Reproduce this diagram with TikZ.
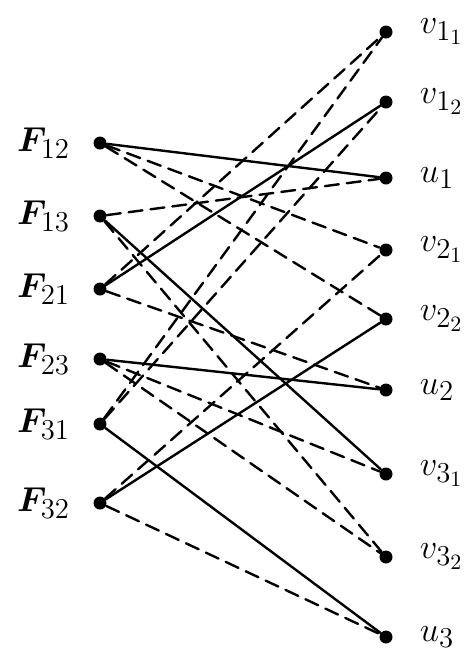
\documentclass[tikz,border=0pt]{standalone}
\usepackage{amsmath,amssymb}
\usepackage{bm}
\usetikzlibrary{positioning}
\DeclareMathSizes{17.28}{17.28}{14}{11}

\begin{document}
\begin{tikzpicture}[x=0.5pt, y=-0.5pt, line cap=round,
  dot/.style={circle, fill=black, inner sep=0pt, minimum size=6.5pt},
  pieno/.style={line width=1.2pt},
  tratt/.style={line width=1.2pt, dash pattern=on 7pt off 4pt},
  etich/.style={font=\LARGE}]

\useasboundingbox (0,0) rectangle (475,654);

% Nodi a sinistra
\node[dot] (F12) at (100,143) {};
\node[dot] (F13) at (100,216) {};
\node[dot] (F21) at (100,289) {};
\node[dot] (F23) at (100,359) {};
\node[dot] (F31) at (100,424) {};
\node[dot] (F32) at (100,503) {};

% Nodi a destra
\node[dot] (v11) at (386,32) {};
\node[dot] (v12) at (386,102) {};
\node[dot] (u1)  at (386,178) {};
\node[dot] (v21) at (386,250) {};
\node[dot] (v22) at (386,319) {};
\node[dot] (u2)  at (386,390) {};
\node[dot] (v31) at (386,474) {};
\node[dot] (v32) at (386,557) {};
\node[dot] (u3)  at (386,637) {};

% Etichette
\node[etich, left=8pt of F12] (lF12) {$\bm{F}_{12}$};
\node[etich, left=8pt of F13] (lF13) {$\bm{F}_{13}$};
\node[etich, left=8pt of F21] (lF21) {$\bm{F}_{21}$};
\node[etich, left=8pt of F23] (lF23) {$\bm{F}_{23}$};
\node[etich, left=8pt of F31] (lF31) {$\bm{F}_{31}$};
\node[etich, left=8pt of F32] (lF32) {$\bm{F}_{32}$};

\node[etich, right=10pt of v11] (lv11) {$v_{1_1}$};
\node[etich, right=10pt of v12] (lv12) {$v_{1_2}$};
\node[etich, right=10pt of u1]  (lu1)  {$u_1$};
\node[etich, right=10pt of v21] (lv21) {$v_{2_1}$};
\node[etich, right=10pt of v22] (lv22) {$v_{2_2}$};
\node[etich, right=10pt of u2]  (lu2)  {$u_2$};
\node[etich, right=10pt of v31] (lv31) {$v_{3_1}$};
\node[etich, right=10pt of v32] (lv32) {$v_{3_2}$};
\node[etich, right=10pt of u3]  (lu3)  {$u_3$};

% Archi pieni
\draw[pieno] (F12) -- (u1);
\draw[pieno] (F13) -- (v31);
\draw[pieno] (F21) -- (v12);
\draw[pieno] (F23) -- (u2);
\draw[pieno] (F31) -- (u3);
\draw[pieno] (F32) -- (v22);

% Archi tratteggiati
\draw[tratt] (F12) -- (v21);
\draw[tratt] (F12) -- (v22);
\draw[tratt] (F13) -- (u1);
\draw[tratt] (F13) -- (v32);
\draw[tratt] (F21) -- (v11);
\draw[tratt] (F21) -- (u2);
\draw[tratt] (F23) -- (v31);
\draw[tratt] (F23) -- (v32);
\draw[tratt] (F31) -- (v11);
\draw[tratt] (F31) -- (v12);
\draw[tratt] (F32) -- (v21);
\draw[tratt] (F32) -- (u3);

\end{tikzpicture}
\end{document}
